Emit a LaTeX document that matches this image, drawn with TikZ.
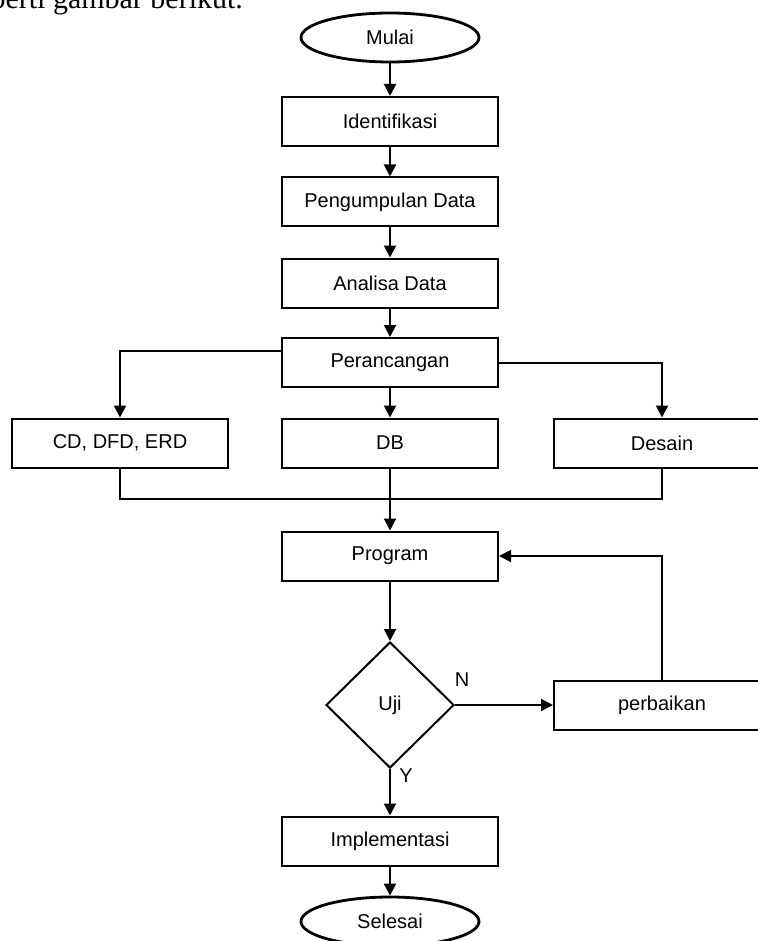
\documentclass[tikz,border=0pt]{standalone}
\usepackage{fontspec}
\setmainfont{Liberation Sans}
\newfontfamily\docfont{Liberation Serif}
\usetikzlibrary{shapes.geometric,arrows.meta}
\tikzset{
  proses/.style={draw, rectangle, minimum width=108pt, minimum height=24.5pt,
    inner sep=0pt, line width=1pt, font=\fontsize{10}{12}\selectfont},
  terminal/.style={draw, ellipse, minimum width=89pt, minimum height=24.5pt,
    inner sep=0pt, line width=1.4pt, font=\fontsize{10}{12}\selectfont},
  keputusan/.style={draw, diamond, minimum width=64pt, minimum height=63pt,
    inner sep=0pt, line width=1pt, font=\fontsize{10}{12}\selectfont},
  alur/.style={-{Triangle[length=6pt,width=6pt]}, line width=1pt},
  garis/.style={line width=1pt},
  tanda/.style={font=\fontsize{10}{12}\selectfont},
}
\begin{document}
\begin{tikzpicture}[x=0.5pt,y=-0.5pt]
      \useasboundingbox (0,0) rectangle (758,941);
      \clip (0,0) rectangle (758,941);
      \node[anchor=base east, font=\docfont\fontsize{15}{18}\selectfont] (kalimat) at (250,9) {seperti gambar berikut.};
      \draw
        (390,37.5) node[terminal] (mulai){Mulai}
        (390,121.5) node[proses] (identifikasi){Identifikasi}
        (390,202) node[proses] (pengumpulan){Pengumpulan Data}
        (390,283) node[proses] (analisa){Analisa Data}
        (390,362.5) node[proses] (perancangan){Perancangan}
        (120,443) node[proses] (cd){CD, DFD, ERD}
        (390,443) node[proses] (db){DB}
        (662,443) node[proses] (desain){Desain}
        (390,556) node[proses] (program){Program}
        (390,705) node[keputusan] (uji){Uji}
        (662,705) node[proses] (perbaikan){perbaikan}
        (390,841) node[proses] (implementasi){Implementasi}
        (390,921.5) node[terminal] (selesai){Selesai};
      \coordinate (gabung) at (390,499);
      \node[tanda] (n) at (462,680) {N};
      \node[tanda] (y) at (406,776) {Y};
      \begin{scope}[alur]
        \draw (mulai) to (identifikasi);
        \draw (identifikasi) to (pengumpulan);
        \draw (pengumpulan) to (analisa);
        \draw (analisa) to (perancangan);
        \draw ([yshift=5.75pt]perancangan.west) -| (cd.north);
        \draw (perancangan) to (db);
        \draw (perancangan.east) -| (desain.north);
        \draw (db.south) to (program.north);
        \draw (program) to (uji);
        \draw (uji.east) to (perbaikan.west);
        \draw (perbaikan.north) |- (program.east);
        \draw (uji.south) to (implementasi.north);
        \draw (implementasi) to (selesai);
      \end{scope}
      \begin{scope}[garis]
        \draw (cd.south) |- (gabung);
        \draw (desain.south) |- (gabung);
      \end{scope}
    \end{tikzpicture}
\end{document}
